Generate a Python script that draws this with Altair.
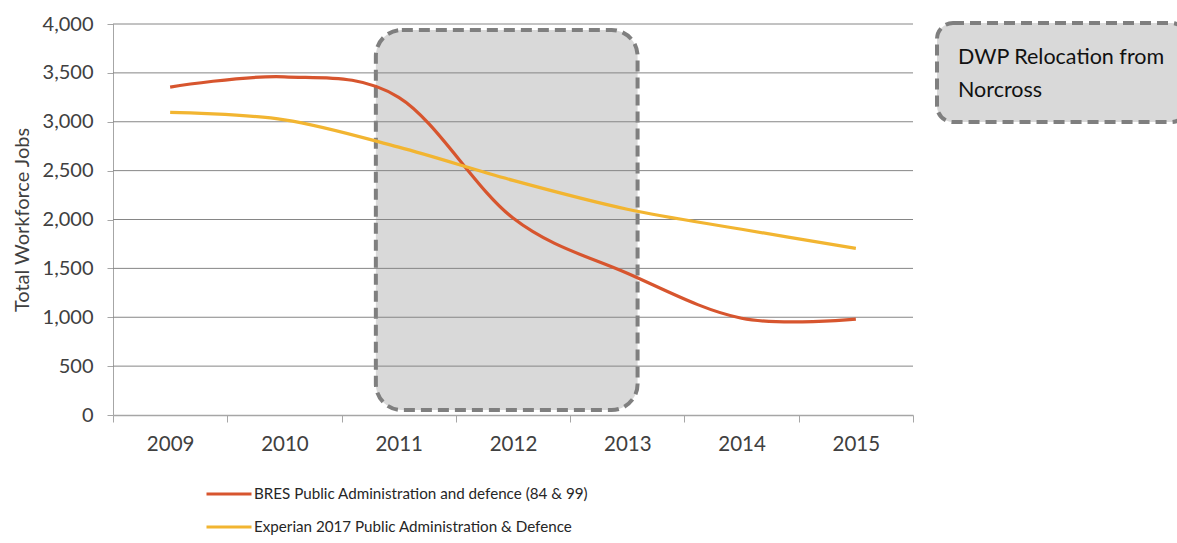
import altair as alt
import pandas as pd

# Series values (total workforce jobs by year)
years = [2009, 2010, 2011, 2012, 2013, 2014, 2015]
bres = [3355, 3460, 3250, 2015, 1450, 990, 980]
experian = [3095, 3020, 2740, 2400, 2105, 1900, 1705]
series_names = [
    "BRES Public Administration and defence (84 & 99)",
    "Experian 2017 Public Administration & Defence",
]
series_colors = ["#d7552e", "#f2b531"]
y_ticks = [0, 500, 1000, 1500, 2000, 2500, 3000, 3500, 4000]

# Shaded relocation period (in year / job units)
period_x = [2010.80, 2013.09]
period_y = [51, 3939]

# Side note box
note_text = ["DWP Relocation from", "Norcross"]
note_x = [2015.71, 2017.9]
note_y = [2997, 4010]

FONT = "Lato"
W, H = 800, 391
x_domain = [2008.5, 2015.5]
band_edges = [2008.5 + i for i in range(8)]
step = W / (x_domain[1] - x_domain[0])

df = pd.DataFrame(
    {
        "year": years * 2,
        "jobs": bres + experian,
        "series": [series_names[0]] * len(years) + [series_names[1]] * len(years),
    }
)

x_scale = alt.Scale(domain=x_domain, nice=False, zero=False)
y_scale = alt.Scale(domain=[0, 4000], nice=False)

x_axis = alt.Axis(
    values=band_edges,
    labelExpr="datum.value < 2015.2 ? format(datum.value + 0.5, 'd') : ''",
    labelOffset=step / 2,
    labelFlush=False,
    labelFont=FONT,
    labelFontSize=20.5,
    labelColor="#404040",
    labelPadding=12,
    tickSize=7,
    tickColor="#a6a6a6",
    domainColor="#a6a6a6",
    domainWidth=1.5,
    grid=False,
    title=None,
)
y_axis = alt.Axis(
    values=y_ticks,
    format=",d",
    labelFont=FONT,
    labelFontSize=20,
    labelColor="#404040",
    labelPadding=14,
    tickSize=6,
    tickColor="#a6a6a6",
    domainColor="#a6a6a6",
    grid=False,
    title="Total Workforce Jobs",
    titleFont=FONT,
    titleFontSize=20,
    titleFontWeight="normal",
    titleColor="#404040",
    titlePadding=10,
)

period = (
    alt.Chart(pd.DataFrame({"x": [period_x[0]], "x2": [period_x[1]], "y": [period_y[0]], "y2": [period_y[1]]}))
    .mark_rect(
        fill="#d9d9d9",
        stroke="#7f7f7f",
        strokeWidth=4,
        strokeDash=[11, 6],
        cornerRadius=26,
    )
    .encode(
        x=alt.X("x:Q", scale=x_scale, axis=x_axis),
        x2="x2:Q",
        y=alt.Y("y:Q", scale=y_scale, axis=y_axis),
        y2="y2:Q",
    )
)

grid = (
    alt.Chart(pd.DataFrame({"v": y_ticks[1:]}))
    .mark_rule(color="#868686", strokeWidth=1)
    .encode(y=alt.Y("v:Q", scale=y_scale))
)

lines = (
    alt.Chart(df)
    .mark_line(strokeWidth=3.2, interpolate="cardinal", tension=0)
    .encode(
        x=alt.X("year:Q", scale=x_scale),
        y=alt.Y("jobs:Q", scale=y_scale),
        color=alt.Color(
            "series:N",
            scale=alt.Scale(domain=series_names, range=series_colors),
            sort=series_names,
            legend=alt.Legend(
                title=None,
                orient="none",
                legendX=92,
                legendY=446,
                direction="vertical",
                symbolType="stroke",
                symbolSize=2025,
                symbolStrokeWidth=3,
                labelFont=FONT,
                labelFontSize=15.2,
                labelColor="#262626",
                labelOffset=1,
                labelLimit=600,
                rowPadding=-9,
                padding=0,
            ),
        ),
    )
)

note_box = (
    alt.Chart(pd.DataFrame({"x": [note_x[0]], "x2": [note_x[1]], "y": [note_y[0]], "y2": [note_y[1]]}))
    .mark_rect(
        fill="#d9d9d9",
        stroke="#7f7f7f",
        strokeWidth=4,
        strokeDash=[11, 6],
        cornerRadius=16,
    )
    .encode(
        x=alt.X("x:Q", scale=x_scale),
        x2="x2:Q",
        y=alt.Y("y:Q", scale=y_scale),
        y2="y2:Q",
    )
)

note_label = (
    alt.Chart(pd.DataFrame({"x": [note_x[0]], "y": [note_y[1]], "t": [note_text]}))
    .mark_text(
        align="left",
        baseline="middle",
        dx=21,
        dy=35,
        font=FONT,
        fontSize=21.5,
        lineHeight=33,
        color="#111111",
    )
    .encode(
        x=alt.X("x:Q", scale=x_scale),
        y=alt.Y("y:Q", scale=y_scale),
        text="t",
    )
)

chart = (
    alt.layer(period, grid, lines, note_box, note_label)
    .properties(
        width=W,
        height=H,
        autosize=alt.AutoSizeParams(type="none"),
        padding={"left": 113, "top": 24, "right": 264, "bottom": 128},
        background="white",
    )
    .configure_view(stroke=None)
)

chart.save("out.html", embed_options={"renderer": "svg", "actions": False})
